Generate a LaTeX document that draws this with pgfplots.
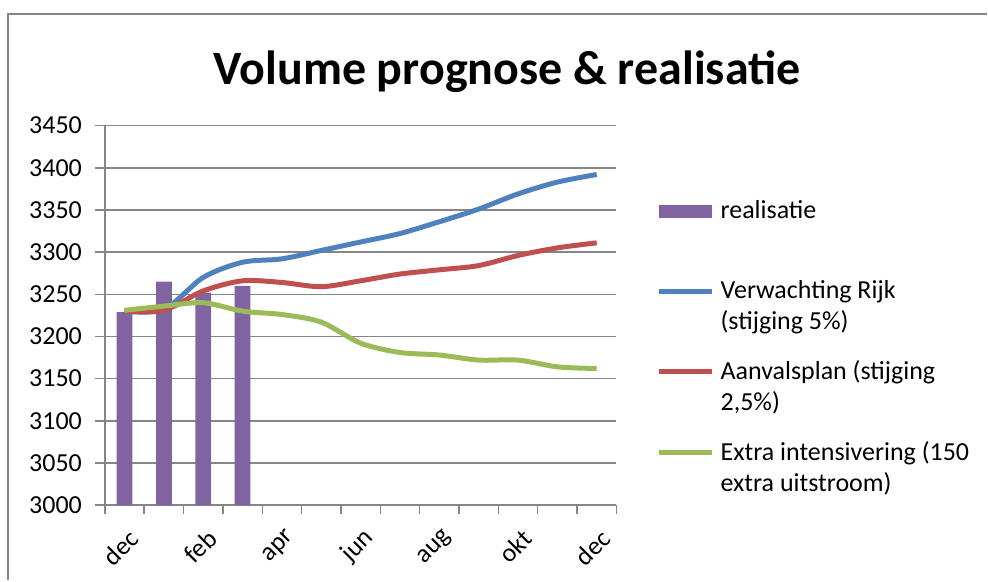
\documentclass[border=0pt]{standalone}
\usepackage{fontspec}
\setmainfont{Carlito}
\usepackage{pgfplots}
\usepackage{pgfplotstable}
\pgfplotsset{compat=1.18}
\definecolor{cPurple}{HTML}{8064A2}
\definecolor{cBlue}{HTML}{4F81BD}
\definecolor{cRed}{HTML}{C0504D}
\definecolor{cGreen}{HTML}{9BBB59}
\definecolor{cGrid}{HTML}{868686}

% month index: 0=dec,1=jan,...,12=dec
\pgfplotstableread{
x y
0 3229
1 3265
2 3252
3 3260
}\realtab
\pgfplotstableread{
x y
0 3230
1 3232
2 3270
3 3288
4 3292
5 3302
6 3312
7 3322
8 3336
9 3351
10 3369
11 3383
12 3392
}\rijktab
\pgfplotstableread{
x y
0 3230
1 3231
2 3254
3 3266
4 3264
5 3259
6 3266
7 3274
8 3279
9 3284
10 3296
11 3305
12 3311
}\aanvaltab
\pgfplotstableread{
x y
0 3231
1 3236
2 3240
3 3230
4 3226
5 3217
6 3192
7 3181
8 3178
9 3172
10 3172
11 3164
12 3162
}\extratab

\begin{document}
\begin{tikzpicture}
\path (0pt,0pt) rectangle (494pt,290.5pt);
\draw[cGrid, line width=1pt] (4.25pt,0pt) -- (4.25pt,283.5pt) -- (494pt,283.5pt);
\node[anchor=base, font=\fontsize{24}{28}\selectfont\bfseries] at (253.75pt,248pt) {Volume prognose \& realisatie};
\begin{axis}[
  at={(52.5pt,37.65pt)}, anchor=south west,
  width=256pt, height=190pt, scale only axis,
  xmin=-0.5, xmax=12.5, ymin=3000, ymax=3450,
  axis lines*=left,
  axis line style={cGrid, line width=0.75pt},
  ytick={3000,3050,...,3450},
  xtick={0,2,...,12},
  xticklabels={dec,feb,apr,jun,aug,okt,dec},
  minor xtick={-0.5,0.5,...,12.5},
  major x tick style={draw=none},
  tick style={cGrid, line width=0.75pt},
  tick align=outside,
  major tick length=5pt, minor tick length=4.5pt,
  ymajorgrids,
  major grid style={cGrid, line width=0.75pt},
  /pgf/number format/assume math mode=true,
  /pgf/number format/1000 sep={},
  tick label style={font=\fontsize{13}{15}\selectfont},
  yticklabel style={xshift=-3pt},
  xticklabel style={rotate=45, anchor=east, yshift=-10pt, xshift=0pt},
  clip=true,
  legend cell align=left,
  legend style={at={(1.078,0.815)}, anchor=north west, draw=none, fill=none,
    font=\fontsize{13}{15.5}\selectfont, row sep=10pt, inner sep=0pt,
    nodes={inner xsep=3pt, align=left}},
]
\addplot[ybar, bar width=0.4, bar shift=0pt, fill=cPurple, draw=none,
  legend image code/.code={\fill[cPurple] (0pt,4pt) rectangle (26.5pt,10.5pt);}]
  table[x=x,y=y] {\realtab};
\addlegendentry{realisatie\\\mbox{}}
\addplot[cBlue, line width=2.5pt, smooth, no markers,
  legend image code/.code={\draw[cBlue, line width=2.5pt] (0pt,7.5pt) -- (26.5pt,7.5pt);}]
  table[x=x,y=y] {\rijktab};
\addlegendentry{Verwachting Rijk\\(stijging 5\%)}
\addplot[cRed, line width=2.5pt, smooth, no markers,
  legend image code/.code={\draw[cRed, line width=2.5pt] (0pt,7.5pt) -- (26.5pt,7.5pt);}]
  table[x=x,y=y] {\aanvaltab};
\addlegendentry{Aanvalsplan (stijging\\2,5\%)}
\addplot[cGreen, line width=2.5pt, smooth, no markers,
  legend image code/.code={\draw[cGreen, line width=2.5pt] (0pt,7.5pt) -- (26.5pt,7.5pt);}]
  table[x=x,y=y] {\extratab};
\addlegendentry{Extra intensivering (150\\extra uitstroom)}
\end{axis}
\end{tikzpicture}
\end{document}
